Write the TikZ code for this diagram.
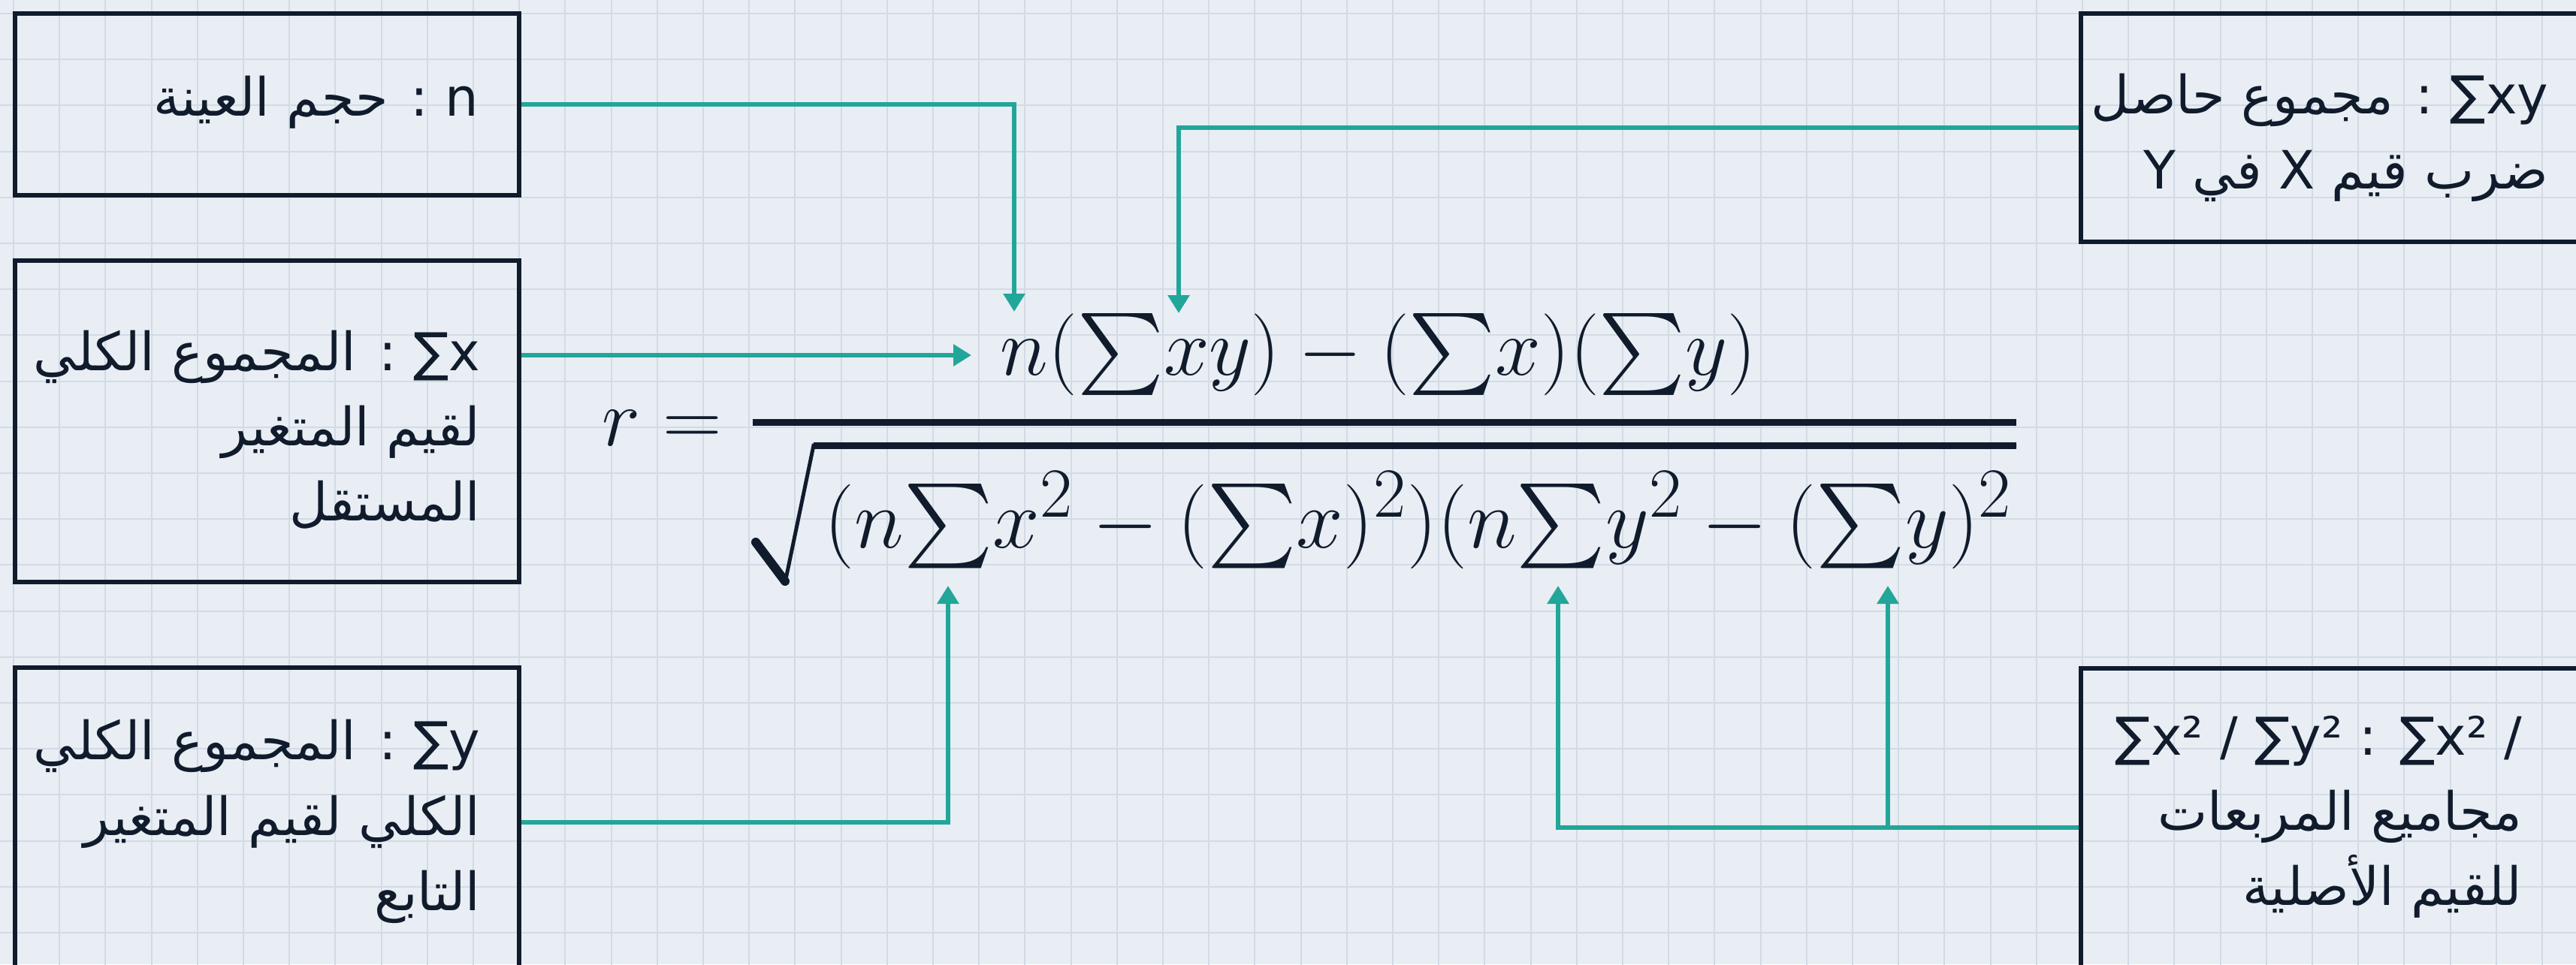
\documentclass[tikz,border=0pt]{standalone}
\usepackage{fontspec}
\usepackage{amsmath}
\usetikzlibrary{arrows.meta,positioning}
\TeXXeTstate=1
\newfontfamily\arabicfont[Script=Arabic]{DejaVu Sans}
\newfontfamily\latfont{DejaVu Sans}
\definecolor{paper}{HTML}{E8EEF4}
\definecolor{gridc}{HTML}{D2DBE5}
\definecolor{ink}{HTML}{101B2C}
\definecolor{tealc}{HTML}{22A699}
\newcommand{\arln}[1]{\beginR #1\endR}
\newcommand{\ltwd}[1]{\beginL #1\endL{}}
\newcommand{\Sg}{{\textstyle\sum}}
% cm math stops at 24.88pt, so the formula is scaled up
\newcommand{\eqbig}[2]{\scalebox{#1}{\fontsize{24.88}{30}\selectfont $#2$}}

\begin{document}
\begin{tikzpicture}[
	box/.style={draw=ink, line width=0.065cm, rectangle, inner sep=0pt},
	lbl/.style={anchor=east, align=right, text=ink, inner sep=0pt,
		font=\arabicfont\fontsize{20}{28.5}\selectfont},
	link/.style={draw=tealc, line width=0.06cm,
		-{Triangle[length=0.24cm,width=0.28cm]}},
	frm/.style={text=ink, inner sep=0pt}
]
	\useasboundingbox (0,0) rectangle (34.29,-12.84);
	\clip (0,0) rectangle (34.29,-12.84);
	\fill[paper] (0,0) rectangle (34.29,-12.84);
	% squared paper
	\draw[gridc, line width=0.02cm, shift={(0.18,-0.18)}]
		(-0.18,0.18) grid[step=0.612] (34.2,-12.8);

	% boxes
	\node[box, minimum width=6.71cm, minimum height=2.42cm] (b1) at (3.555,-1.39) {};
	\node[box, minimum width=6.71cm, minimum height=4.28cm] (b2) at (3.555,-5.61) {};
	\node[box, minimum width=6.71cm, minimum height=4.05cm] (b3) at (3.555,-10.915) {};
	\node[box, minimum width=6.80cm, minimum height=3.04cm] (b4) at (31.10,-1.70) {};
	\node[box, minimum width=6.80cm, minimum height=4.05cm] (b5) at (31.10,-10.925) {};

	\node[lbl] (t1) at (6.38,-1.36) {\arln{\ltwd{n} : حجم العينة}};
	\node[lbl] (t2) at (6.40,-5.72) {\arln{\ltwd{∑x} : المجموع الكلي}\\
		\arln{لقيم المتغير}\\ \arln{المستقل}};
	\node[lbl] (t3) at (6.40,-10.94) {\arln{\ltwd{∑y} : المجموع الكلي}\\
		\arln{الكلي لقيم المتغير}\\ \arln{التابع}};
	\node[lbl] (t4) at (33.93,-1.83) {\arln{\ltwd{∑xy} : مجموع حاصل}\\
		\arln{ضرب قيم \ltwd{X} في \ltwd{Y}}};
	\node[lbl] (t5) at (33.58,-10.88) {{\latfont ∑x² / ∑y² : ∑x² /}\\
		\arln{مجاميع المربعات}\\ \arln{للقيم الأصلية}};

	% the formula
	\node[frm, anchor=base east] (req) at (9.62,-5.93) {\eqbig{1.246}{r =}};
	\node[frm, anchor=base] (num) at (18.35,-4.99)
		{\eqbig{1.246}{n(\Sg xy) - (\Sg x)(\Sg y)}};
	\draw[ink, line width=0.09cm] (10.02,-5.62) -- (26.84,-5.62);
	\node[frm, anchor=base west] (den) at (10.97,-7.29)
		{\eqbig{1.286}{(n\Sg x^2 - (\Sg x)^2)(n\Sg y^2 - (\Sg y)^2}};
	\draw[ink, line width=0.12cm, line cap=round] (10.06,-7.22) -- (10.45,-7.74);
	\draw[ink, line width=0.05cm, line join=miter]
		(10.45,-7.76) -- (10.83,-5.93) -- (26.84,-5.93);
	\draw[ink, line width=0.09cm] (10.83,-5.93) -- (26.84,-5.93);

	% arrow ends
	\coordinate (tgn) at (13.50,-4.15);
	\coordinate (tgxy) at (15.69,-4.17);
	\coordinate (tgnum) at (12.93,-4.73);
	\coordinate (tgsx) at (12.62,-7.80);
	\coordinate (tgsx2) at (20.74,-7.80);
	\coordinate (tgsy2) at (25.13,-7.80);
	\coordinate (k3) at (12.62,-10.95);
	\coordinate (k5) at (20.74,-11.02);

	\draw[link] (b1.east) -- (b1.east -| tgn) -- (tgn);
	\draw[link] (b4.west) -- (b4.west -| tgxy) -- (tgxy);
	\draw[link] (b2.east |- tgnum) -- (tgnum);
	\draw[link] (b3.east |- k3) -- (k3) -- (tgsx);
	\draw[link] (b5.west |- k5) -- (k5) -- (tgsx2);
	\draw[link] (tgsy2 |- k5) -- (tgsy2);
\end{tikzpicture}
\end{document}
